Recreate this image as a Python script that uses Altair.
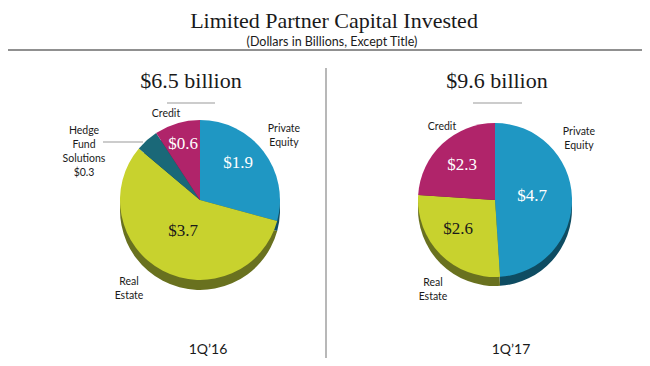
import altair as alt
import pandas as pd

# ---------------- data ----------------
segments_16 = ["Private Equity", "Real Estate", "Hedge Fund Solutions", "Credit"]
values_16 = [1.9, 3.7, 0.3, 0.6]
segments_17 = ["Private Equity", "Real Estate", "Credit"]
values_17 = [4.7, 2.6, 2.3]
totals = ["$6.5 billion", "$9.6 billion"]
periods = ["1Q\u201916", "1Q\u201917"]
title = "Limited Partner Capital Invested"
subtitle = "(Dollars in Billions, Except Title)"

# ---------------- styles ----------------
seg_domain = ["Private Equity", "Real Estate", "Hedge Fund Solutions", "Credit"]
top_colors = ["#1F97C3", "#C8D22E", "#1A6878", "#B0246A"]
side_colors = ["#0E4C62", "#69711F", "#0D3840", "#5E1538"]
SERIF = "Liberation Serif"
SANS = "Lato"
M = 8  # page margin


def pie_df(segs, vals):
    return pd.DataFrame({"segment": segs, "value": vals, "order": list(range(len(segs)))})


def pie(df, cx, cy, r, colors):
    return alt.Chart(df).mark_arc(radius=r).encode(
        theta=alt.Theta("value:Q", stack=True),
        order=alt.Order("order:Q"),
        color=alt.Color("segment:N", scale=alt.Scale(domain=seg_domain, range=colors), legend=None),
        x=alt.value(cx - M),
        y=alt.value(cy - M),
    )


def texts(rows, font, size, color, line_height=None):
    df = pd.DataFrame(rows, columns=["text", "x", "y"])
    df["x"] = df["x"] - M
    df["y"] = df["y"] - M
    kw = dict(font=font, fontSize=size, color=color, align="center", baseline="alphabetic")
    if line_height:
        kw.update(lineBreak="\n", lineHeight=line_height)
    return alt.Chart(df).mark_text(**kw).encode(
        x=alt.X("x:Q", scale=None, axis=None),
        y=alt.Y("y:Q", scale=None, axis=None),
        text="text:N",
    )


def rules(rows, color, width):
    df = pd.DataFrame(rows, columns=["x", "x2", "y", "y2"])
    for c in df.columns:
        df[c] = df[c] - M
    return alt.Chart(df).mark_rule(color=color, strokeWidth=width).encode(
        x=alt.X("x:Q", scale=None, axis=None),
        x2="x2:Q",
        y=alt.Y("y:Q", scale=None, axis=None),
        y2="y2:Q",
    )


df16 = pie_df(segments_16, values_16)
df17 = pie_df(segments_17, values_17)

fmt = lambda v: f"${v}"

layers = [
    pie(df16, 200, 210, 80, side_colors),
    pie(df16, 200, 200, 80, top_colors),
    pie(df17, 495, 209, 77, side_colors),
    pie(df17, 495, 200, 77, top_colors),
    rules([(8, 642, 50, 50)], "#6b6b6b", 1.5),
    rules([(326, 326, 68, 358)], "#a0a0a0", 1.5),
    rules([(167, 215, 103, 103), (473, 522, 103, 103)], "#9a9a9a", 1.2),
    rules([(103, 143, 142, 142)], "#9a9a9a", 1.2),
    texts([(title, 334, 28)], SERIF, 22, "#1a1a1a"),
    texts([(subtitle, 332, 46)], SANS, 12.5, "#1a1a1a"),
    texts([(totals[0], 191, 88), (totals[1], 497, 88)], SERIF, 22, "#1a1a1a"),
    texts([
        (fmt(values_16[0]), 238, 168),
        (fmt(values_16[3]), 183, 149),
        (fmt(values_17[0]), 532, 201),
        (fmt(values_17[2]), 462, 170),
    ], SERIF, 17, "#ffffff"),
    texts([
        (fmt(values_16[1]), 183, 236),
        (fmt(values_17[1]), 458, 234),
    ], SERIF, 17, "#1a1a1a"),
    texts([
        ("Credit", 166, 117),
        ("Private\nEquity", 284, 132),
        ("Hedge\nFund\nSolutions\n" + fmt(values_16[2]), 84, 134),
        ("Real\nEstate", 129, 285),
        ("Credit", 442, 130),
        ("Private\nEquity", 579, 135),
        ("Real\nEstate", 433, 286),
    ], SANS, 10.5, "#1a1a1a", line_height=14),
    texts([(periods[0], 208, 354), (periods[1], 511, 354)], SANS, 14, "#1a1a1a"),
]

chart = alt.layer(*layers).resolve_scale(
    theta="independent", color="independent"
).properties(
    width=634, height=350, autosize="none", padding=0
).configure_view(stroke=None)

chart.save("out.html", embed_options={"renderer": "svg", "actions": False})
